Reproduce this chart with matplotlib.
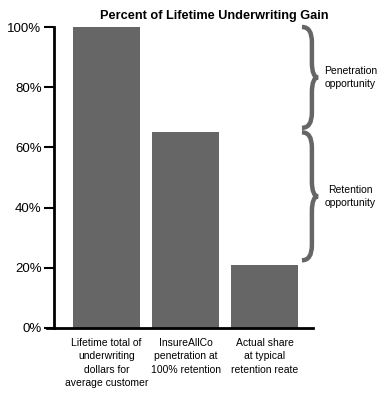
import matplotlib
matplotlib.use("Agg")
import matplotlib.pyplot as plt
from matplotlib.path import Path
from matplotlib.patches import PathPatch
from matplotlib.lines import Line2D

plt.rcParams['font.family'] = ['Liberation Sans', 'DejaVu Sans']

categories = ["Lifetime total of\nunderwriting\ndollars for\naverage customer",
              "InsureAllCo\npenetration at\n100% retention",
              "Actual share\nat typical\nretention reate"]
values = [100, 65, 21]
yticks = [0, 20, 40, 60, 80, 100]
brace_labels = ["Penetration\nopportunity", "Retention\nopportunity"]
brace_spans = [(100, 66.5), (65, 22.5)]

gray = "#666666"

fig = plt.figure(figsize=(3.88, 4.0), dpi=100)
ax = fig.add_axes([54 / 388, 1 - 328 / 400, 259 / 388, 301 / 400])

x = list(range(len(values)))
ax.bar(x, values, width=0.848, color=gray)
ax.set_xlim(-0.665, 2.614)
ax.set_ylim(0, 100)

ax.set_yticks(yticks)
ax.set_yticklabels([f"{v}%" for v in yticks], fontsize=9.5)
ax.tick_params(axis='y', length=7, width=1.5, pad=2)
ax.set_xticks([])
for s in ['top', 'right', 'bottom']:
    ax.spines[s].set_visible(False)
ax.spines['left'].set_linewidth(2)

# x axis line extending left of the spine
ax.add_line(Line2D([-7 / 259, 1], [0, 0], transform=ax.transAxes,
                   color='black', lw=2, clip_on=False))

for xi, lab in zip(x, categories):
    ax.text(xi, -3.2, lab, ha='center', va='top', fontsize=7.5,
            linespacing=1.45)

ax.set_title("Percent of Lifetime Underwriting Gain", fontsize=9.2,
             fontweight='bold', pad=6, x=0.62)


def brace(ytop, ybot, x0=2.474, xm=2.60, xt=2.68, r=5):
    ym = (ytop + ybot) / 2
    verts = [(x0, ytop), (xm, ytop), (xm, ytop - r),
             (xm, ym + r),
             (xm, ym), (xt, ym),
             (xm, ym), (xm, ym - r),
             (xm, ybot + r),
             (xm, ybot), (x0, ybot)]
    codes = [Path.MOVETO, Path.CURVE3, Path.CURVE3,
             Path.LINETO,
             Path.CURVE3, Path.CURVE3,
             Path.CURVE3, Path.CURVE3,
             Path.LINETO,
             Path.CURVE3, Path.CURVE3]
    p = PathPatch(Path(verts, codes), fill=False, edgecolor=gray, lw=3.2,
                  clip_on=False, capstyle='butt')
    ax.add_patch(p)
    return ym


for (yt, yb), lab in zip(brace_spans, brace_labels):
    ym = brace(yt, yb)
    ax.text(3.09, ym, lab, ha='center', va='center', fontsize=7.5,
            linespacing=1.3)

fig.savefig("out.png", dpi=100)
